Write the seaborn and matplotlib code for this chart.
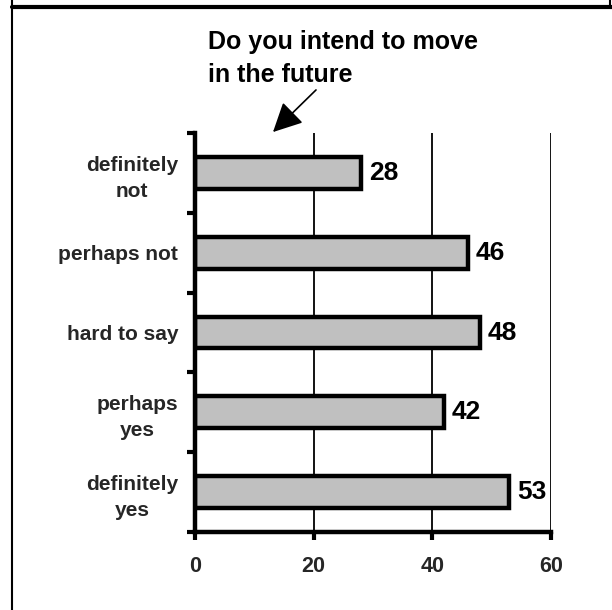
import matplotlib
matplotlib.use("Agg")
import matplotlib.pyplot as plt
from matplotlib.lines import Line2D
from matplotlib.ticker import FixedLocator
import seaborn as sns
import pandas as pd

categories = ["definitely\nnot", "perhaps not", "hard to say", "perhaps\nyes", "definitely\nyes"]
values = [28, 46, 48, 42, 53]
x_ticks = [0, 20, 40, 60]
title_text = "Do you intend to move\nin the future"

sns.set_theme(style="white")
plt.rcParams["font.family"] = ["Liberation Sans", "DejaVu Sans"]
plt.rcParams["font.weight"] = "bold"

df = pd.DataFrame({"category": categories, "value": values})

W, H = 612, 610
fig = plt.figure(figsize=(W / 100, H / 100), dpi=100)
fig.patch.set_facecolor("white")
ax = fig.add_axes([195 / W, 1 - 532 / H, (551 - 195) / W, (532 - 133) / H])

sns.barplot(data=df, x="value", y="category", order=categories, orient="h",
            color="#C0C0C0", edgecolor="black", linewidth=3.2, width=0.4,
            saturation=1, ax=ax)

ax.set_xlim(0, 60)
ax.set_ylim(4.5, -0.5)
ax.set_xlabel("")
ax.set_ylabel("")
ax.set_xticks(x_ticks)
ax.set_xticklabels([str(t) for t in x_ticks], fontsize=15.5, fontweight="bold")
for lab in ax.get_yticklabels():
    lab.set_fontsize(15)
    lab.set_fontweight("bold")
    lab.set_multialignment("center")
    lab.set_linespacing(1.45)

# gridlines
for t in x_ticks[1:]:
    ax.axvline(t, color="black", linewidth=1.3, zorder=0)

for s in ["top", "right"]:
    ax.spines[s].set_visible(False)
ax.spines["left"].set_linewidth(3.2)
ax.spines["bottom"].set_linewidth(3.2)
ax.spines["left"].set_color("black")
ax.spines["bottom"].set_color("black")

ax.tick_params(axis="y", which="major", length=0, pad=12)
ax.yaxis.set_minor_locator(FixedLocator([-0.5, 0.5, 1.5, 2.5, 3.5, 4.5]))
ax.tick_params(axis="y", which="minor", length=6, width=3, color="black", direction="out", left=True)
ax.tick_params(axis="x", which="major", length=6, width=3, color="black", direction="out",
               bottom=True, pad=11)

# value labels
for i, v in enumerate(values):
    ax.text(v + 1.3, i, str(v), va="center", ha="left", fontsize=19,
            fontweight="bold", color="black")

# title
fig.text(208 / W, 1 - 30 / H, title_text, ha="left", va="top", fontsize=18,
         fontweight="bold", color="black", linespacing=1.45)

# arrow
fig.add_artist(matplotlib.patches.FancyArrowPatch(
    (318 / W, 1 - 88 / H), (271 / W, 1 - 134 / H), transform=fig.transFigure,
    arrowstyle="-|>,head_length=0.9,head_width=0.45", mutation_scale=20,
    color="black", linewidth=1.2))

# frame lines
fig.add_artist(Line2D([12 / W, 1], [1 - 7 / H, 1 - 7 / H], transform=fig.transFigure,
                      color="black", linewidth=3))
fig.add_artist(Line2D([12 / W, 12 / W], [0, 1], transform=fig.transFigure,
                      color="black", linewidth=1.5))
fig.add_artist(Line2D([610 / W, 610 / W], [1 - 7 / H, 1], transform=fig.transFigure,
                      color="black", linewidth=1.5))

fig.savefig("out.png", dpi=100, facecolor="white")
